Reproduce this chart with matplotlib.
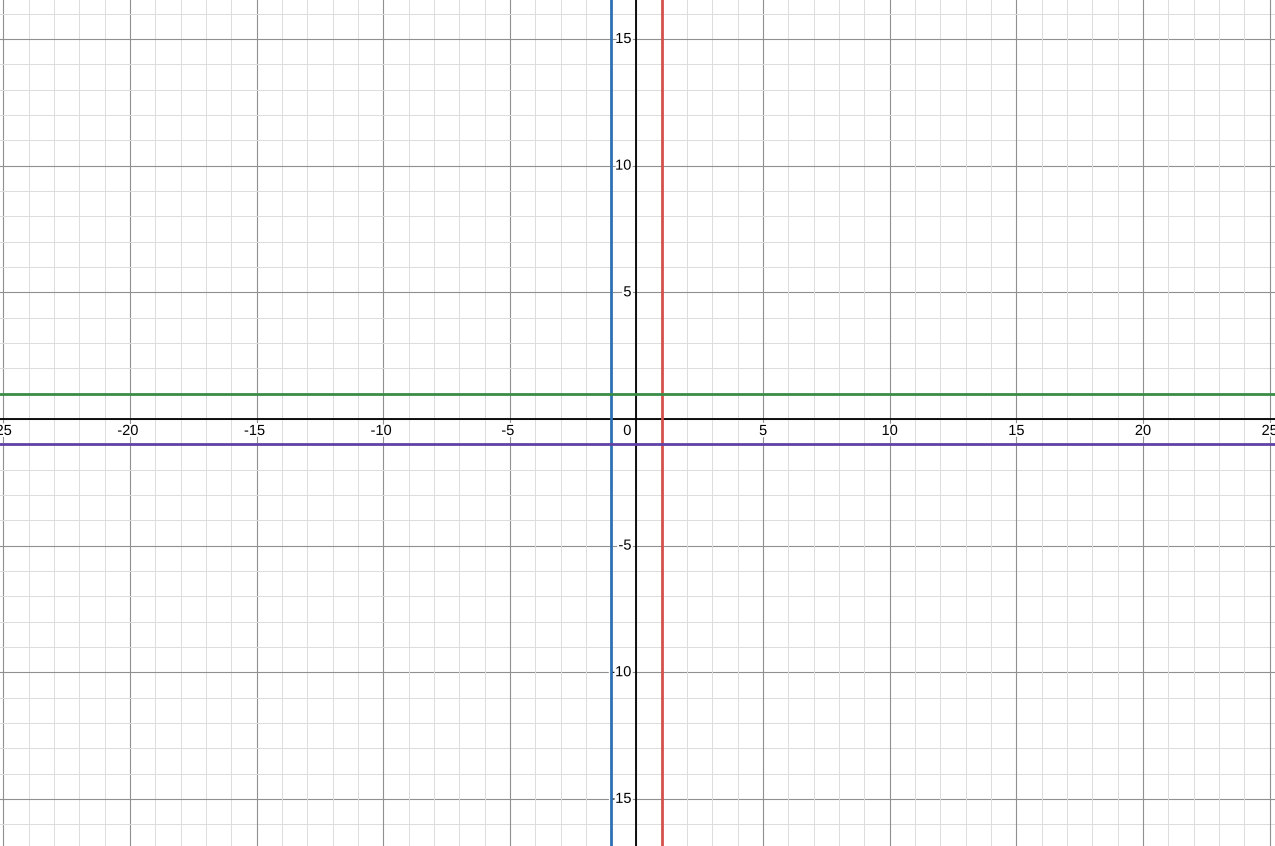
import matplotlib.pyplot as plt
import matplotlib.patheffects as pe
import numpy as np

# lines shown on the graph
vertical_x = [-1, 1]
vertical_colors = ['#2d70b3', '#d4504c']
horizontal_y = [1, -1]
horizontal_colors = ['#388c46', '#6042a6']

x_ticks = [-25, -20, -15, -10, -5, 5, 10, 15, 20, 25]
y_ticks = [-15, -10, -5, 5, 10, 15]

xlim = (-25.13, 25.21)
ylim = (-16.86, 16.54)

plt.rcParams['font.family'] = ['Liberation Sans', 'DejaVu Sans']

fig = plt.figure(figsize=(12.75, 8.46), dpi=100)
ax = fig.add_axes([0, 0, 1, 1])
ax.set_xlim(*xlim)
ax.set_ylim(*ylim)
ax.axis('off')

# grid: minor every 1, major every 5
for v in np.arange(-26, 27):
    major = v % 5 == 0
    col = '#909090' if major else '#dcdcdc'
    lw = 0.8 if major else 0.7
    ax.axvline(v, color=col, lw=lw, zorder=1)
    if abs(v) <= 17:
        ax.axhline(v, color=col, lw=lw, zorder=1)

# axes
ax.axhline(0, color='black', lw=1.3, zorder=2)
ax.axvline(0, color='black', lw=1.3, zorder=2)

halo = [pe.withStroke(linewidth=3, foreground='white')]
for t in x_ticks:
    ax.annotate(str(t), (t, 0), xytext=(-2 if t < 0 else 0, -5), textcoords='offset pixels',
                ha='center', va='top', fontsize=10.5, path_effects=halo, zorder=3)
for t in y_ticks:
    ax.annotate(str(t), (0, t), xytext=(-5, 0), textcoords='offset pixels',
                ha='right', va='center', fontsize=10.5, path_effects=halo, zorder=3)
ax.annotate('0', (0, 0), xytext=(-5, -5), textcoords='offset pixels',
            ha='right', va='top', fontsize=10.5, path_effects=halo, zorder=3)

for x, c in zip(vertical_x, vertical_colors):
    ax.axvline(x, color=c, lw=2.0, zorder=4)
for y, c in zip(horizontal_y, horizontal_colors):
    ax.axhline(y, color=c, lw=2.0, zorder=4)

fig.savefig('out.png', dpi=100)
